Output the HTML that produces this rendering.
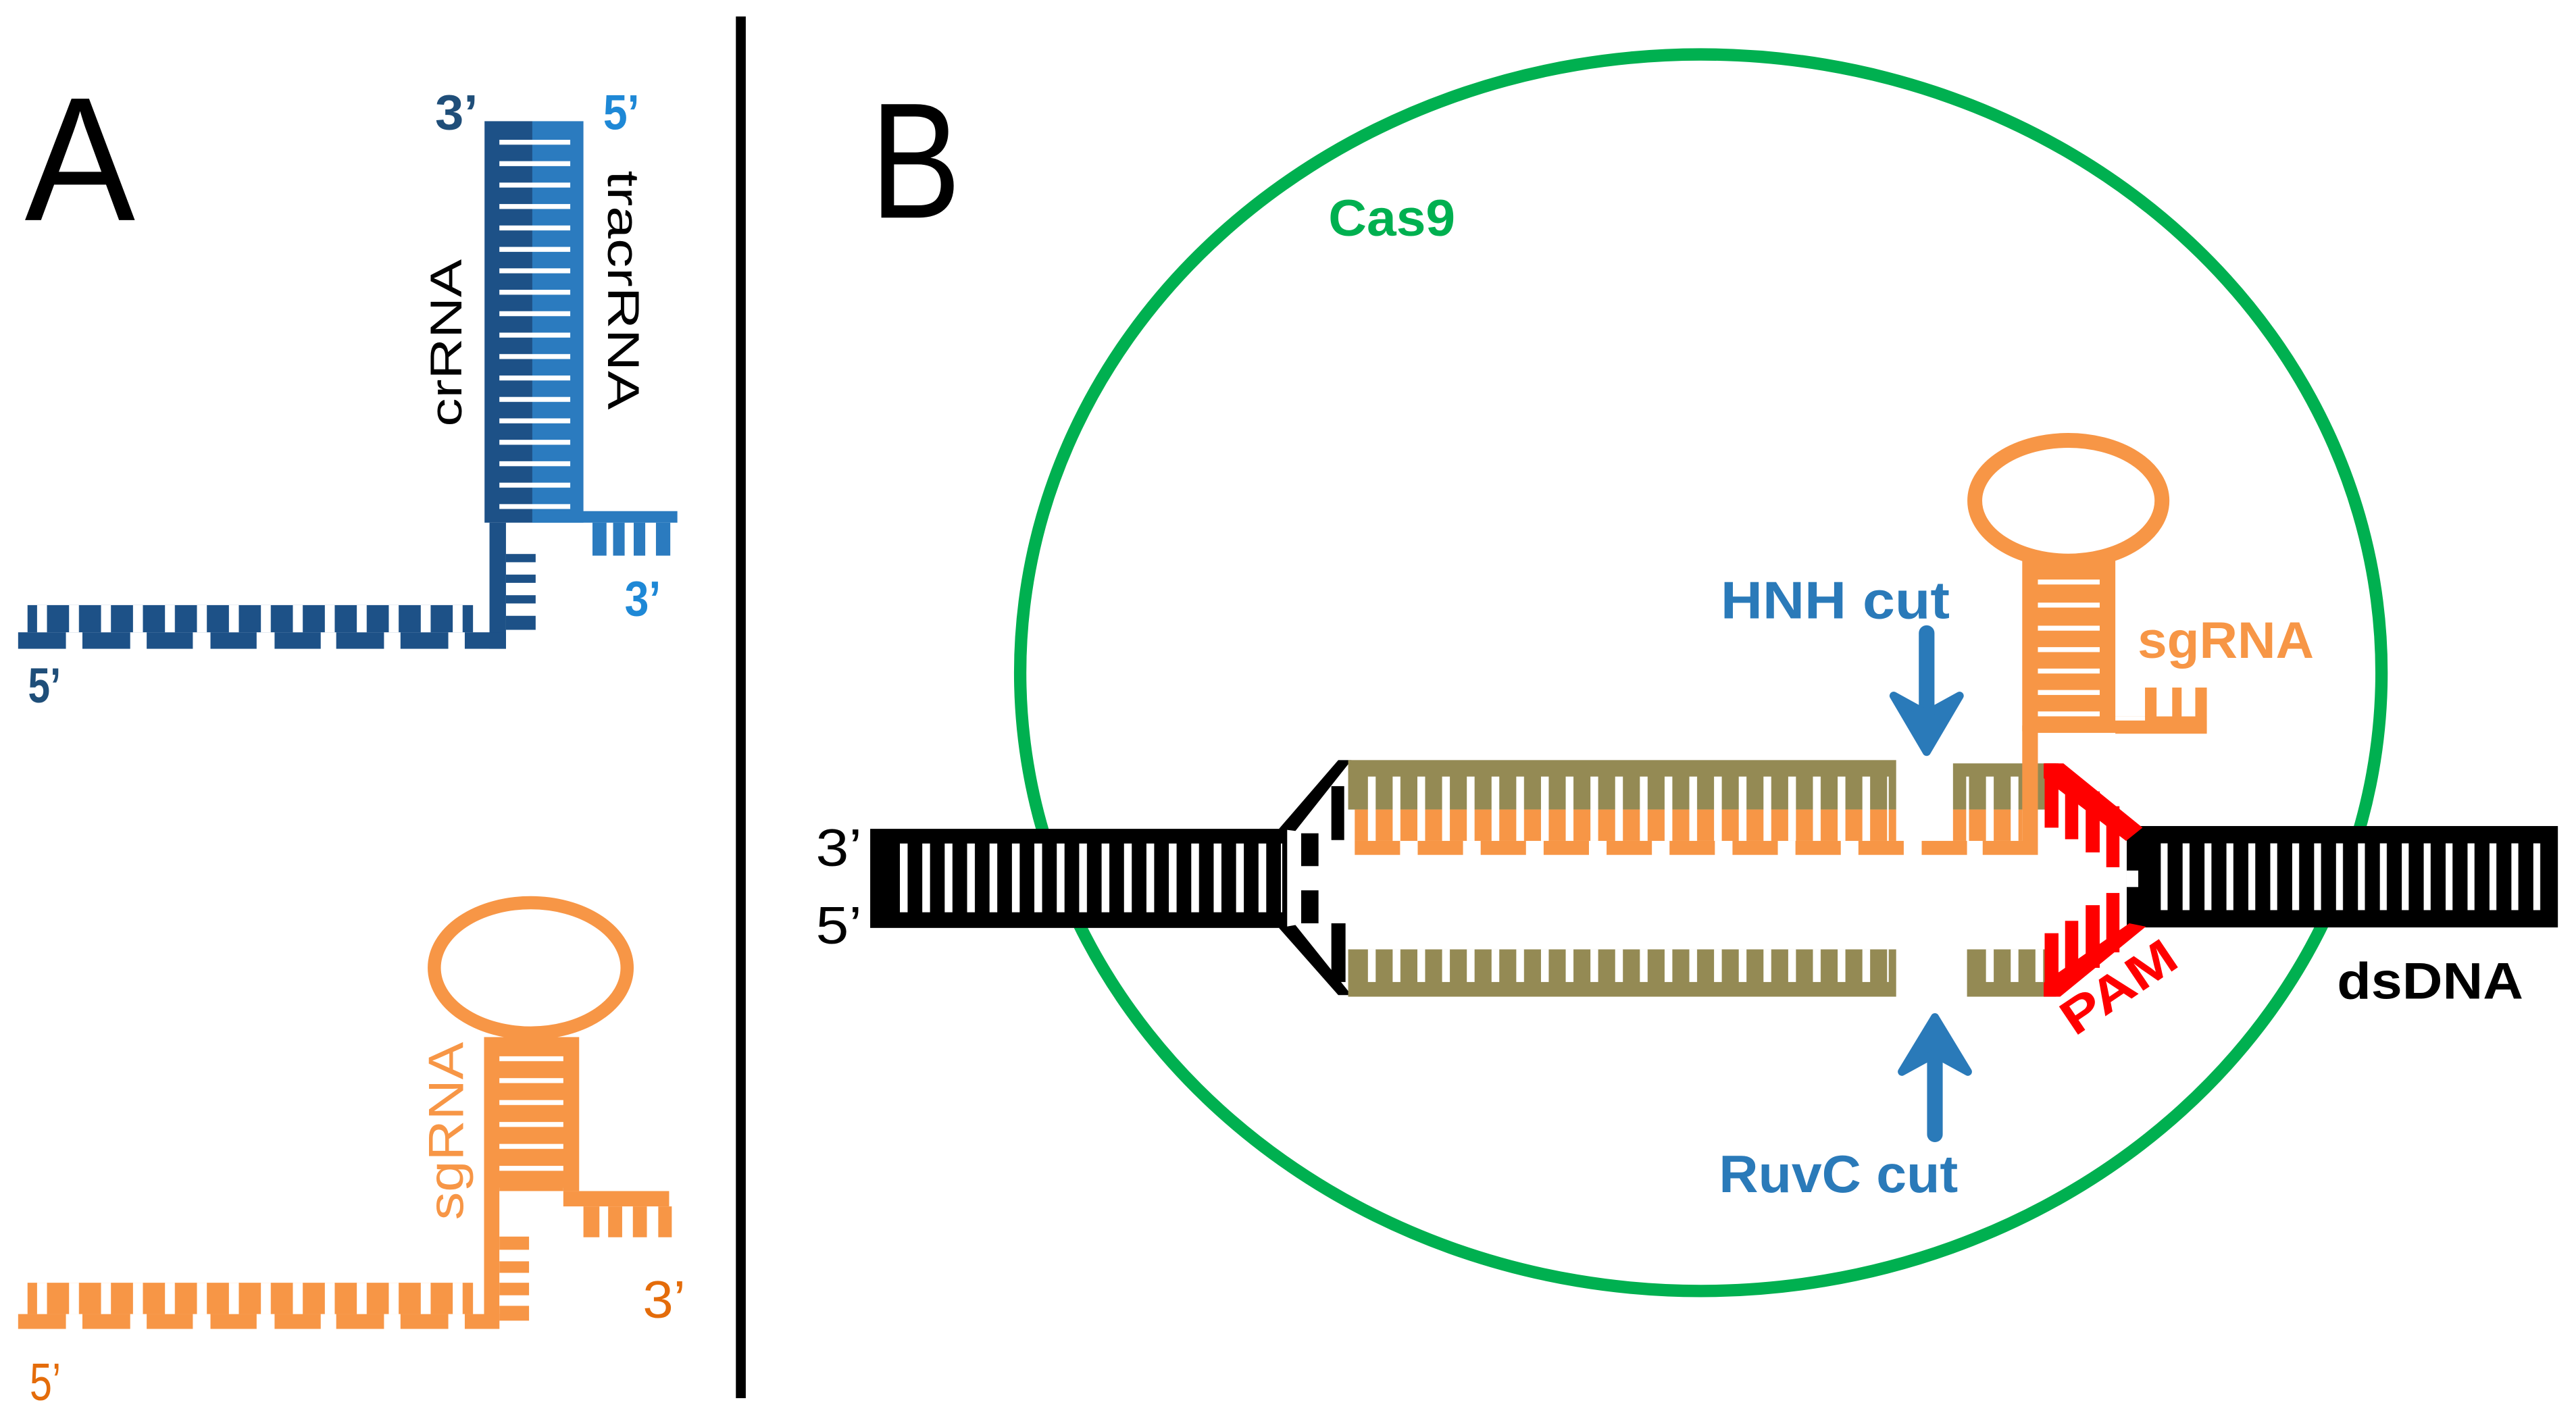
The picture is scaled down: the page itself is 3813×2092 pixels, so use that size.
<!DOCTYPE html>
<html><head><meta charset="utf-8"><style>
html,body{margin:0;padding:0;background:#fff;}
svg{display:block;}
text{font-family:"Liberation Sans",sans-serif;}
</style></head><body>
<svg width="3813" height="2092" viewBox="0 0 1563 857" preserveAspectRatio="none" xmlns="http://www.w3.org/2000/svg">
<defs>
<pattern id="rungA" patternUnits="userSpaceOnUse" x="0" y="84.75" width="100" height="13"><rect x="0" y="0" width="100" height="3" fill="#fff"/></pattern>
<pattern id="rungB" patternUnits="userSpaceOnUse" x="0" y="640.6" width="100" height="13.3"><rect x="0" y="0" width="100" height="3" fill="#fff"/></pattern>
<pattern id="combA" patternUnits="userSpaceOnUse" x="22.5" y="0" width="19.4" height="900"><rect x="0" y="0" width="6" height="900" fill="#fff"/></pattern>
<pattern id="dnaL" patternUnits="userSpaceOnUse" x="546" y="0" width="13.6" height="900"><rect x="0" y="0" width="4.7" height="900" fill="#fff"/></pattern>
<pattern id="dnaR" patternUnits="userSpaceOnUse" x="1311" y="0" width="13.3" height="900"><rect x="0" y="0" width="4.2" height="900" fill="#fff"/></pattern>
<pattern id="ol" patternUnits="userSpaceOnUse" x="830" y="0" width="15" height="900"><rect x="0" y="0" width="4.7" height="900" fill="#fff"/></pattern>
</defs>

<!-- Panel labels & divider -->
<text x="15" y="133.5" font-size="107" textLength="67" lengthAdjust="spacingAndGlyphs">A</text>
<text x="528" y="132" font-size="100" textLength="55" lengthAdjust="spacingAndGlyphs">B</text>
<rect x="446.5" y="10" width="6" height="838" fill="#000"/>

<!-- ===== Panel A top ===== -->
<rect x="294" y="73.5" width="29" height="243.5" fill="#1d5187"/>
<rect x="323" y="73.5" width="31" height="243.5" fill="#2b7bbf"/>
<rect x="303" y="84.75" width="43" height="224" fill="url(#rungA)"/>
<rect x="323" y="310" width="88" height="7" fill="#2b7bbf"/>
<rect x="359.5" y="317" width="8.5" height="20" fill="#2b7bbf"/>
<rect x="372" y="317" width="7" height="20" fill="#2b7bbf"/>
<rect x="384.5" y="317" width="7" height="20" fill="#2b7bbf"/>
<rect x="398" y="317" width="8.7" height="20" fill="#2b7bbf"/>
<rect x="297" y="317" width="10" height="76.5" fill="#1d5187"/>
<rect x="307" y="336" width="18" height="5" fill="#1d5187"/>
<rect x="307" y="348.5" width="18" height="5" fill="#1d5187"/>
<rect x="307" y="361" width="18" height="5" fill="#1d5187"/>
<rect x="307" y="373.5" width="18" height="8.5" fill="#1d5187"/>
<g fill="#1d5187">
<rect x="16.7" y="367" width="270.3" height="16.5"/>
<rect x="11" y="383.5" width="29" height="10"/><rect x="50" y="383.5" width="29" height="10"/>
<rect x="89" y="383.5" width="28" height="10"/><rect x="127.7" y="383.5" width="28" height="10"/>
<rect x="166.6" y="383.5" width="28" height="10"/><rect x="204" y="383.5" width="29" height="10"/>
<rect x="243" y="383.5" width="29" height="10"/><rect x="282" y="383.5" width="25" height="10"/>
</g>
<rect x="16.7" y="367" width="270.3" height="16.5" fill="url(#combA)"/>
<text x="264" y="78.5" font-size="30" font-weight="bold" fill="#1f4e79" textLength="26" lengthAdjust="spacingAndGlyphs">3’</text>
<text x="366" y="78.5" font-size="30" font-weight="bold" fill="#1e88d6" textLength="22" lengthAdjust="spacingAndGlyphs">5’</text>
<text x="379" y="373.5" font-size="30" font-weight="bold" fill="#1e88d6" textLength="22" lengthAdjust="spacingAndGlyphs">3’</text>
<text x="17" y="426" font-size="30" font-weight="bold" fill="#1f4e79" textLength="20" lengthAdjust="spacingAndGlyphs">5’</text>
<text transform="translate(280,208) rotate(-90)" text-anchor="middle" font-size="27" textLength="101.5" lengthAdjust="spacingAndGlyphs">crRNA</text>
<text transform="translate(369,176) rotate(90)" text-anchor="middle" font-size="27" textLength="145" lengthAdjust="spacingAndGlyphs">tracrRNA</text>

<!-- ===== Panel A bottom ===== -->
<ellipse cx="322" cy="587" rx="58.5" ry="39.5" fill="none" stroke="#f79646" stroke-width="8"/>
<rect x="293.7" y="629" width="57.7" height="93.4" fill="#f79646"/>
<rect x="303" y="640.6" width="38.8" height="82" fill="url(#rungB)"/>
<rect x="303" y="719.4" width="38.8" height="3" fill="#f79646"/>
<rect x="341.8" y="722.4" width="64.2" height="9.3" fill="#f79646"/>
<rect x="354" y="731.7" width="9.7" height="18.7" fill="#f79646"/>
<rect x="369" y="731.7" width="8.5" height="18.7" fill="#f79646"/>
<rect x="384" y="731.7" width="8.5" height="18.7" fill="#f79646"/>
<rect x="399.4" y="731.7" width="8.2" height="18.7" fill="#f79646"/>
<rect x="293.7" y="722" width="9.3" height="84" fill="#f79646"/>
<rect x="303" y="750" width="18" height="8" fill="#f79646"/>
<rect x="303" y="765" width="18" height="7" fill="#f79646"/>
<rect x="303" y="778" width="18" height="7.6" fill="#f79646"/>
<rect x="303" y="792" width="18" height="9" fill="#f79646"/>
<g fill="#f79646">
<rect x="16.7" y="778" width="270.3" height="19"/>
<rect x="11" y="797" width="29" height="9"/><rect x="50" y="797" width="29" height="9"/>
<rect x="89" y="797" width="28" height="9"/><rect x="127.7" y="797" width="28" height="9"/>
<rect x="166.6" y="797" width="28" height="9"/><rect x="204" y="797" width="29" height="9"/>
<rect x="243" y="797" width="29" height="9"/><rect x="282" y="797" width="21" height="9"/>
</g>
<rect x="16.7" y="778" width="270.3" height="19" fill="url(#combA)"/>
<text transform="translate(281,686) rotate(-90)" text-anchor="middle" font-size="30" fill="#f79646" textLength="108" lengthAdjust="spacingAndGlyphs">sgRNA</text>
<text x="390" y="799" font-size="32" fill="#e46c0a" textLength="26" lengthAdjust="spacingAndGlyphs">3’</text>
<text x="18" y="849" font-size="32" fill="#e46c0a" textLength="19" lengthAdjust="spacingAndGlyphs">5’</text>

<!-- ===== Panel B ===== -->
<ellipse cx="1032" cy="408" rx="413" ry="375" fill="none" stroke="#00b050" stroke-width="7.5"/>
<text x="806" y="143" font-size="31" font-weight="bold" fill="#00b050" textLength="77" lengthAdjust="spacingAndGlyphs">Cas9</text>

<!-- left dsDNA -->
<rect x="528" y="502.7" width="253" height="60.1" fill="#000"/>
<rect x="546" y="511.6" width="232" height="41.7" fill="url(#dnaL)"/>
<!-- funnel -->
<polygon points="776,502.7 812,461 820,461 786,504" fill="#000"/>
<polygon points="776,562.8 812,603.5 820,603.5 786,561" fill="#000"/>
<rect x="807.8" y="476.8" width="7.8" height="32.7" fill="#000"/>
<rect x="789.5" y="505.4" width="10.5" height="19.9" fill="#000"/>
<rect x="789.5" y="540" width="10.5" height="20" fill="#000"/>
<rect x="807.8" y="560" width="8.6" height="35.6" fill="#000"/>

<!-- right dsDNA -->
<rect x="1290.4" y="501" width="261.6" height="61.5" fill="#000"/>
<rect x="1311" y="511.5" width="238" height="40.5" fill="url(#dnaR)"/>
<rect x="1290.4" y="528" width="7" height="10" fill="#fff"/>

<!-- upper hybrid left segment -->
<rect x="818" y="461" width="332.5" height="30" fill="#948a54"/>
<rect x="822" y="491" width="328.5" height="19" fill="#f79646"/>
<g fill="#f79646">
<rect x="822" y="510" width="27.5" height="8.5"/><rect x="860.2" y="510" width="27.5" height="8.5"/>
<rect x="898.4" y="510" width="27.5" height="8.5"/><rect x="936.6" y="510" width="27.5" height="8.5"/>
<rect x="974.8" y="510" width="27.5" height="8.5"/><rect x="1013" y="510" width="27.5" height="8.5"/>
<rect x="1051.2" y="510" width="27.5" height="8.5"/><rect x="1089.4" y="510" width="27.5" height="8.5"/>
<rect x="1127.6" y="510" width="27.5" height="8.5"/>
<rect x="1166" y="510" width="27.5" height="8.5"/><rect x="1203" y="510" width="33.5" height="8.5"/>
</g>
<rect x="826" y="471" width="320" height="39" fill="url(#ol)"/>
<!-- upper right segment -->
<rect x="1185" y="463" width="62.5" height="28" fill="#948a54"/>
<rect x="1185" y="491" width="42" height="19" fill="#f79646"/>
<rect x="1193" y="471" width="32" height="39" fill="url(#ol)"/>

<!-- lower strand -->
<rect x="818" y="575.8" width="332.5" height="28.7" fill="#948a54"/>
<rect x="822" y="575.8" width="324" height="19.8" fill="url(#ol)"/>
<rect x="1193.5" y="575.8" width="54" height="28.7" fill="#948a54"/>
<rect x="1197" y="575.8" width="46" height="19.8" fill="url(#ol)"/>

<!-- sgRNA in B -->
<ellipse cx="1255" cy="303.7" rx="56.8" ry="36.6" fill="none" stroke="#f79646" stroke-width="9"/>
<rect x="1227" y="337.6" width="56.5" height="105.9" fill="#f79646"/>
<g fill="#fff">
<rect x="1236.5" y="351.5" width="37.5" height="3"/><rect x="1236.5" y="365.5" width="37.5" height="3"/>
<rect x="1236.5" y="379.5" width="37.5" height="3"/><rect x="1236.5" y="392.5" width="37.5" height="3"/>
<rect x="1236.5" y="405.5" width="37.5" height="3"/><rect x="1236.5" y="418.5" width="37.5" height="3"/>
<rect x="1236.5" y="431.5" width="37.5" height="3"/>
</g>
<rect x="1236.5" y="434.5" width="102.5" height="10" fill="#f79646"/>
<rect x="1283.5" y="437" width="55.5" height="8" fill="#f79646"/>
<rect x="1283.5" y="434.5" width="18" height="2.5" fill="#fff"/>
<rect x="1301.5" y="417" width="7" height="18" fill="#f79646"/>
<rect x="1318" y="417" width="5.7" height="18" fill="#f79646"/>
<rect x="1332" y="417" width="7" height="18" fill="#f79646"/>
<rect x="1227" y="440" width="9.5" height="78" fill="#f79646"/>
<text x="1297" y="399" font-size="31" font-weight="bold" fill="#f79646" textLength="107" lengthAdjust="spacingAndGlyphs">sgRNA</text>

<!-- PAM red -->
<g fill="#ff0000">
<polygon points="1240,463 1252,463 1300,502 1290,510 1240,472"/>
<rect x="1240.6" y="463" width="8.4" height="39"/>
<rect x="1253" y="471" width="8" height="38"/>
<rect x="1265.5" y="480" width="8.5" height="37"/>
<rect x="1278" y="489" width="8" height="37"/>
<polygon points="1240,596 1292,560 1302,562 1250,604.5 1240,604.5"/>
<rect x="1240.6" y="566" width="8.4" height="36"/>
<rect x="1253" y="558.5" width="8" height="36"/>
<rect x="1265.5" y="549" width="8.5" height="38"/>
<rect x="1278" y="541.6" width="8" height="36"/>
</g>
<text transform="translate(1285,598) rotate(-34)" x="0" y="11" text-anchor="middle" font-size="30" font-weight="bold" fill="#ff0000" textLength="78" lengthAdjust="spacingAndGlyphs">PAM</text>

<!-- arrows -->
<g fill="#2a7ab9" stroke="#2a7ab9" stroke-linejoin="round" stroke-linecap="round">
<line x1="1169" y1="384" x2="1169" y2="440" stroke-width="9.5"/>
<polygon points="1149,422 1169,456 1189,422 1169,433" stroke-width="5"/>
<line x1="1174" y1="630" x2="1174" y2="688" stroke-width="9.5"/>
<polygon points="1154,650 1174,617 1194,650 1174,639" stroke-width="5"/>
</g>
<text x="1044" y="375" font-size="32" font-weight="bold" fill="#2a7ab9" textLength="139" lengthAdjust="spacingAndGlyphs">HNH cut</text>
<text x="1043" y="723" font-size="32" font-weight="bold" fill="#2a7ab9" textLength="145" lengthAdjust="spacingAndGlyphs">RuvC cut</text>

<text x="1418" y="605.6" font-size="31" font-weight="bold" fill="#000" textLength="113" lengthAdjust="spacingAndGlyphs">dsDNA</text>
<text x="495" y="525" font-size="32" fill="#000" textLength="28" lengthAdjust="spacingAndGlyphs">3’</text>
<text x="495" y="572" font-size="32" fill="#000" textLength="28" lengthAdjust="spacingAndGlyphs">5’</text>
</svg>
</body></html>
